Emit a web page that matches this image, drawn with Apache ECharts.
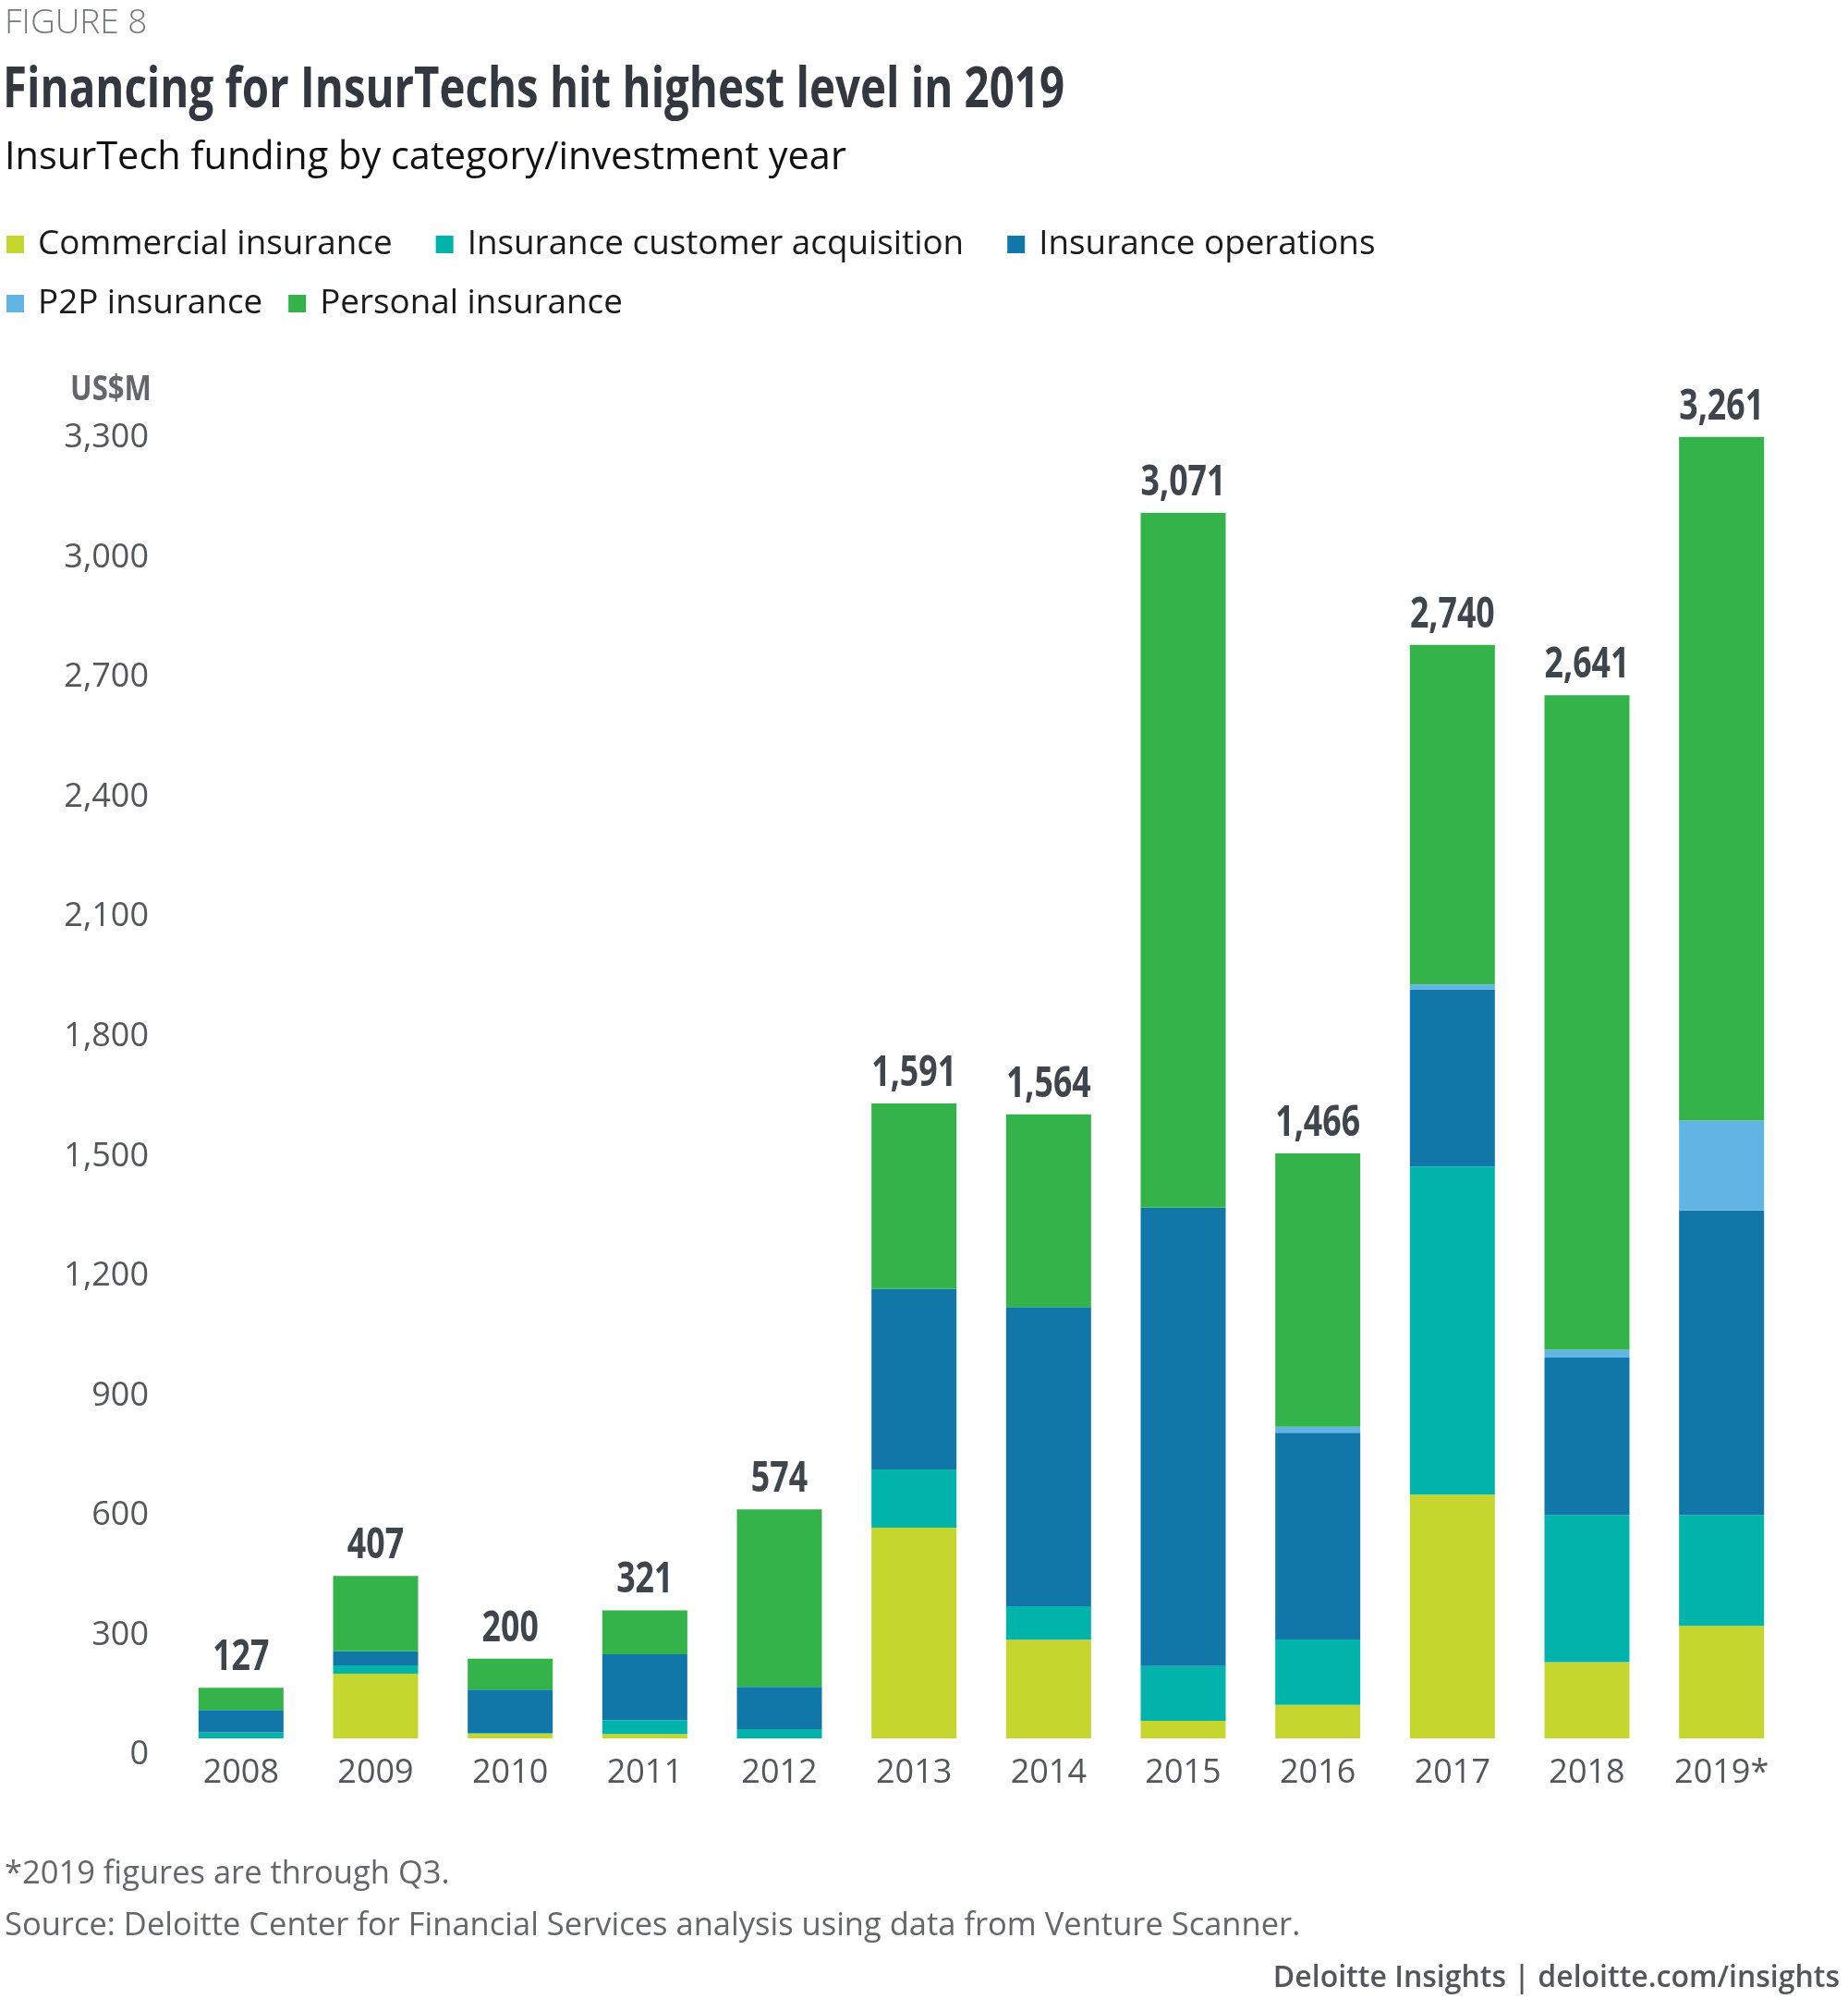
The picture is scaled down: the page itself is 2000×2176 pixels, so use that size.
<!DOCTYPE html>
<html>
<head>
<meta charset="utf-8">
<script src="https://cdn.jsdelivr.net/npm/echarts@6/dist/echarts.min.js"></script>
<style>
html,body{margin:0;padding:0;background:#fff;}
#chart{width:2000px;height:2176px;}
</style>
</head>
<body>
<div id="chart"></div>
<script>
// ---- data ----
var years = ['2008','2009','2010','2011','2012','2013','2014','2015','2016','2017','2018','2019*'];
var seriesNames = ['Commercial insurance','Insurance customer acquisition','Insurance operations','P2P insurance','Personal insurance'];
var commercial = [0, 162, 12, 11, 0, 528, 247, 44, 84, 611, 191, 282];
var customerAcq = [15, 21, 2, 35, 23, 146, 84, 137, 164, 822, 369, 278];
var operations = [56, 35, 108, 165, 106, 452, 750, 1149, 518, 444, 394, 763];
var p2p = [0, 0, 0, 0, 0, 0, 0, 0, 15, 12, 20, 225];
var personal = [56, 189, 78, 110, 445, 465, 483, 1741, 685, 851, 1640, 1713];
var totals = [127, 407, 200, 321, 574, 1591, 1564, 3071, 1466, 2740, 2641, 3261];
var yTicks = [0, 300, 600, 900, 1200, 1500, 1800, 2100, 2400, 2700, 3000, 3300];

var colors = ['#C5D72F', '#00B4AC', '#1077A8', '#62B4E4', '#34B34A'];
var OPEN = "'Open Sans',sans-serif";

function fmt(v){ return String(v).replace(/\B(?=(\d{3})+(?!\d))/g, ','); }

var chart = echarts.init(document.getElementById('chart'), null, {renderer:'canvas'});
var dataArr = [commercial, customerAcq, operations, p2p, personal];
var series = dataArr.map(function(d, i){
  return {
    name: seriesNames[i], type: 'bar', stack: 'total', data: d,
    barWidth: 92, itemStyle: {color: colors[i]}, emphasis: {disabled: true}
  };
});
// stack tops (where the total label sits)
var stackTops = years.map(function(y, i){
  return commercial[i] + customerAcq[i] + operations[i] + p2p[i] + personal[i];
});
series.push({
  name: 'totals', type: 'custom', silent: true, z: 10,
  data: years.map(function(y, i){ return [i, stackTops[i], totals[i]]; }),
  renderItem: function(params, api){
    var pt = api.coord([api.value(0), api.value(1)]);
    return {
      type: 'text', x: pt[0], y: pt[1] - 9, scaleX: 0.76,
      style: {text: fmt(api.value(2)), font: "bold 47px 'Open Sans'", fill: '#3F454D',
              textAlign: 'center', textVerticalAlign: 'bottom'}
    };
  }
});

var option = {
  backgroundColor: '#ffffff',
  animation: false,
  color: colors,
  title: [
    {text: 'FIGURE 8', left: 0, top: 2, textStyle: {fontFamily: OPEN, fontWeight: 300, fontSize: 37, color: '#75787B'}},
    {text: 'InsurTech funding by category/investment year', left: 0, top: 145, textStyle: {fontFamily: OPEN, fontWeight: 'normal', fontSize: 41.5, color: '#111111'}},
    {text: '*2019 figures are through Q3.', left: 0, top: 2006, textStyle: {fontFamily: OPEN, fontWeight: 'normal', fontSize: 34.5, color: '#63666A'}},
    {text: 'Source: Deloitte Center for Financial Services analysis using data from Venture Scanner.', left: 0, top: 2062, textStyle: {fontFamily: OPEN, fontWeight: 'normal', fontSize: 34.5, color: '#63666A'}},
    {text: 'Deloitte Insights | deloitte.com/insights', right: 4, top: 2120, textStyle: {fontFamily: OPEN, fontWeight: 600, fontSize: 32, color: '#53565A'}}
  ],
  graphic: [
    {type: 'text', x: 3, y: 99, scaleX: 0.79, silent: true,
     style: {text: 'Financing for InsurTechs hit highest level in 2019', font: "bold 60px 'Open Sans'", fill: '#333840', textAlign: 'left', textVerticalAlign: 'middle'}},
    {type: 'text', x: 164, y: 422, scaleX: 0.82, silent: true,
     style: {text: 'US$M', font: "bold 38px 'Open Sans'", fill: '#63666A', textAlign: 'right', textVerticalAlign: 'middle'}}
  ],
  legend: [
    {data: seriesNames.slice(0,3), left: 7, top: 246, padding: 0, icon: 'rect', itemWidth: 19, itemHeight: 19, itemGap: 47,
     textStyle: {fontFamily: OPEN, fontSize: 36.8, color: '#1a1a1a', padding: [0,0,0,10]}, selectedMode: false},
    {data: seriesNames.slice(3), left: 7, top: 310, padding: 0, icon: 'rect', itemWidth: 19, itemHeight: 19, itemGap: 28,
     textStyle: {fontFamily: OPEN, fontSize: 36.8, color: '#1a1a1a', padding: [0,0,0,10]}, selectedMode: false}
  ],
  grid: {left: 188, right: 64, top: 456, bottom: 295, containLabel: false},
  xAxis: {
    type: 'category', data: years,
    axisLine: {show: false}, axisTick: {show: false},
    axisLabel: {fontFamily: OPEN, fontSize: 36, color: '#53565A', margin: 20}
  },
  yAxis: {
    type: 'value', min: yTicks[0], max: yTicks[yTicks.length-1], interval: yTicks[1]-yTicks[0],
    axisLine: {show: false}, axisTick: {show: false}, splitLine: {show: false},
    axisLabel: {fontFamily: OPEN, fontSize: 36, color: '#53565A', margin: 27, verticalAlign: 'top',
      formatter: function(v){ return fmt(v); }}
  },
  series: series
};
chart.setOption(option);
</script>
</body>
</html>
